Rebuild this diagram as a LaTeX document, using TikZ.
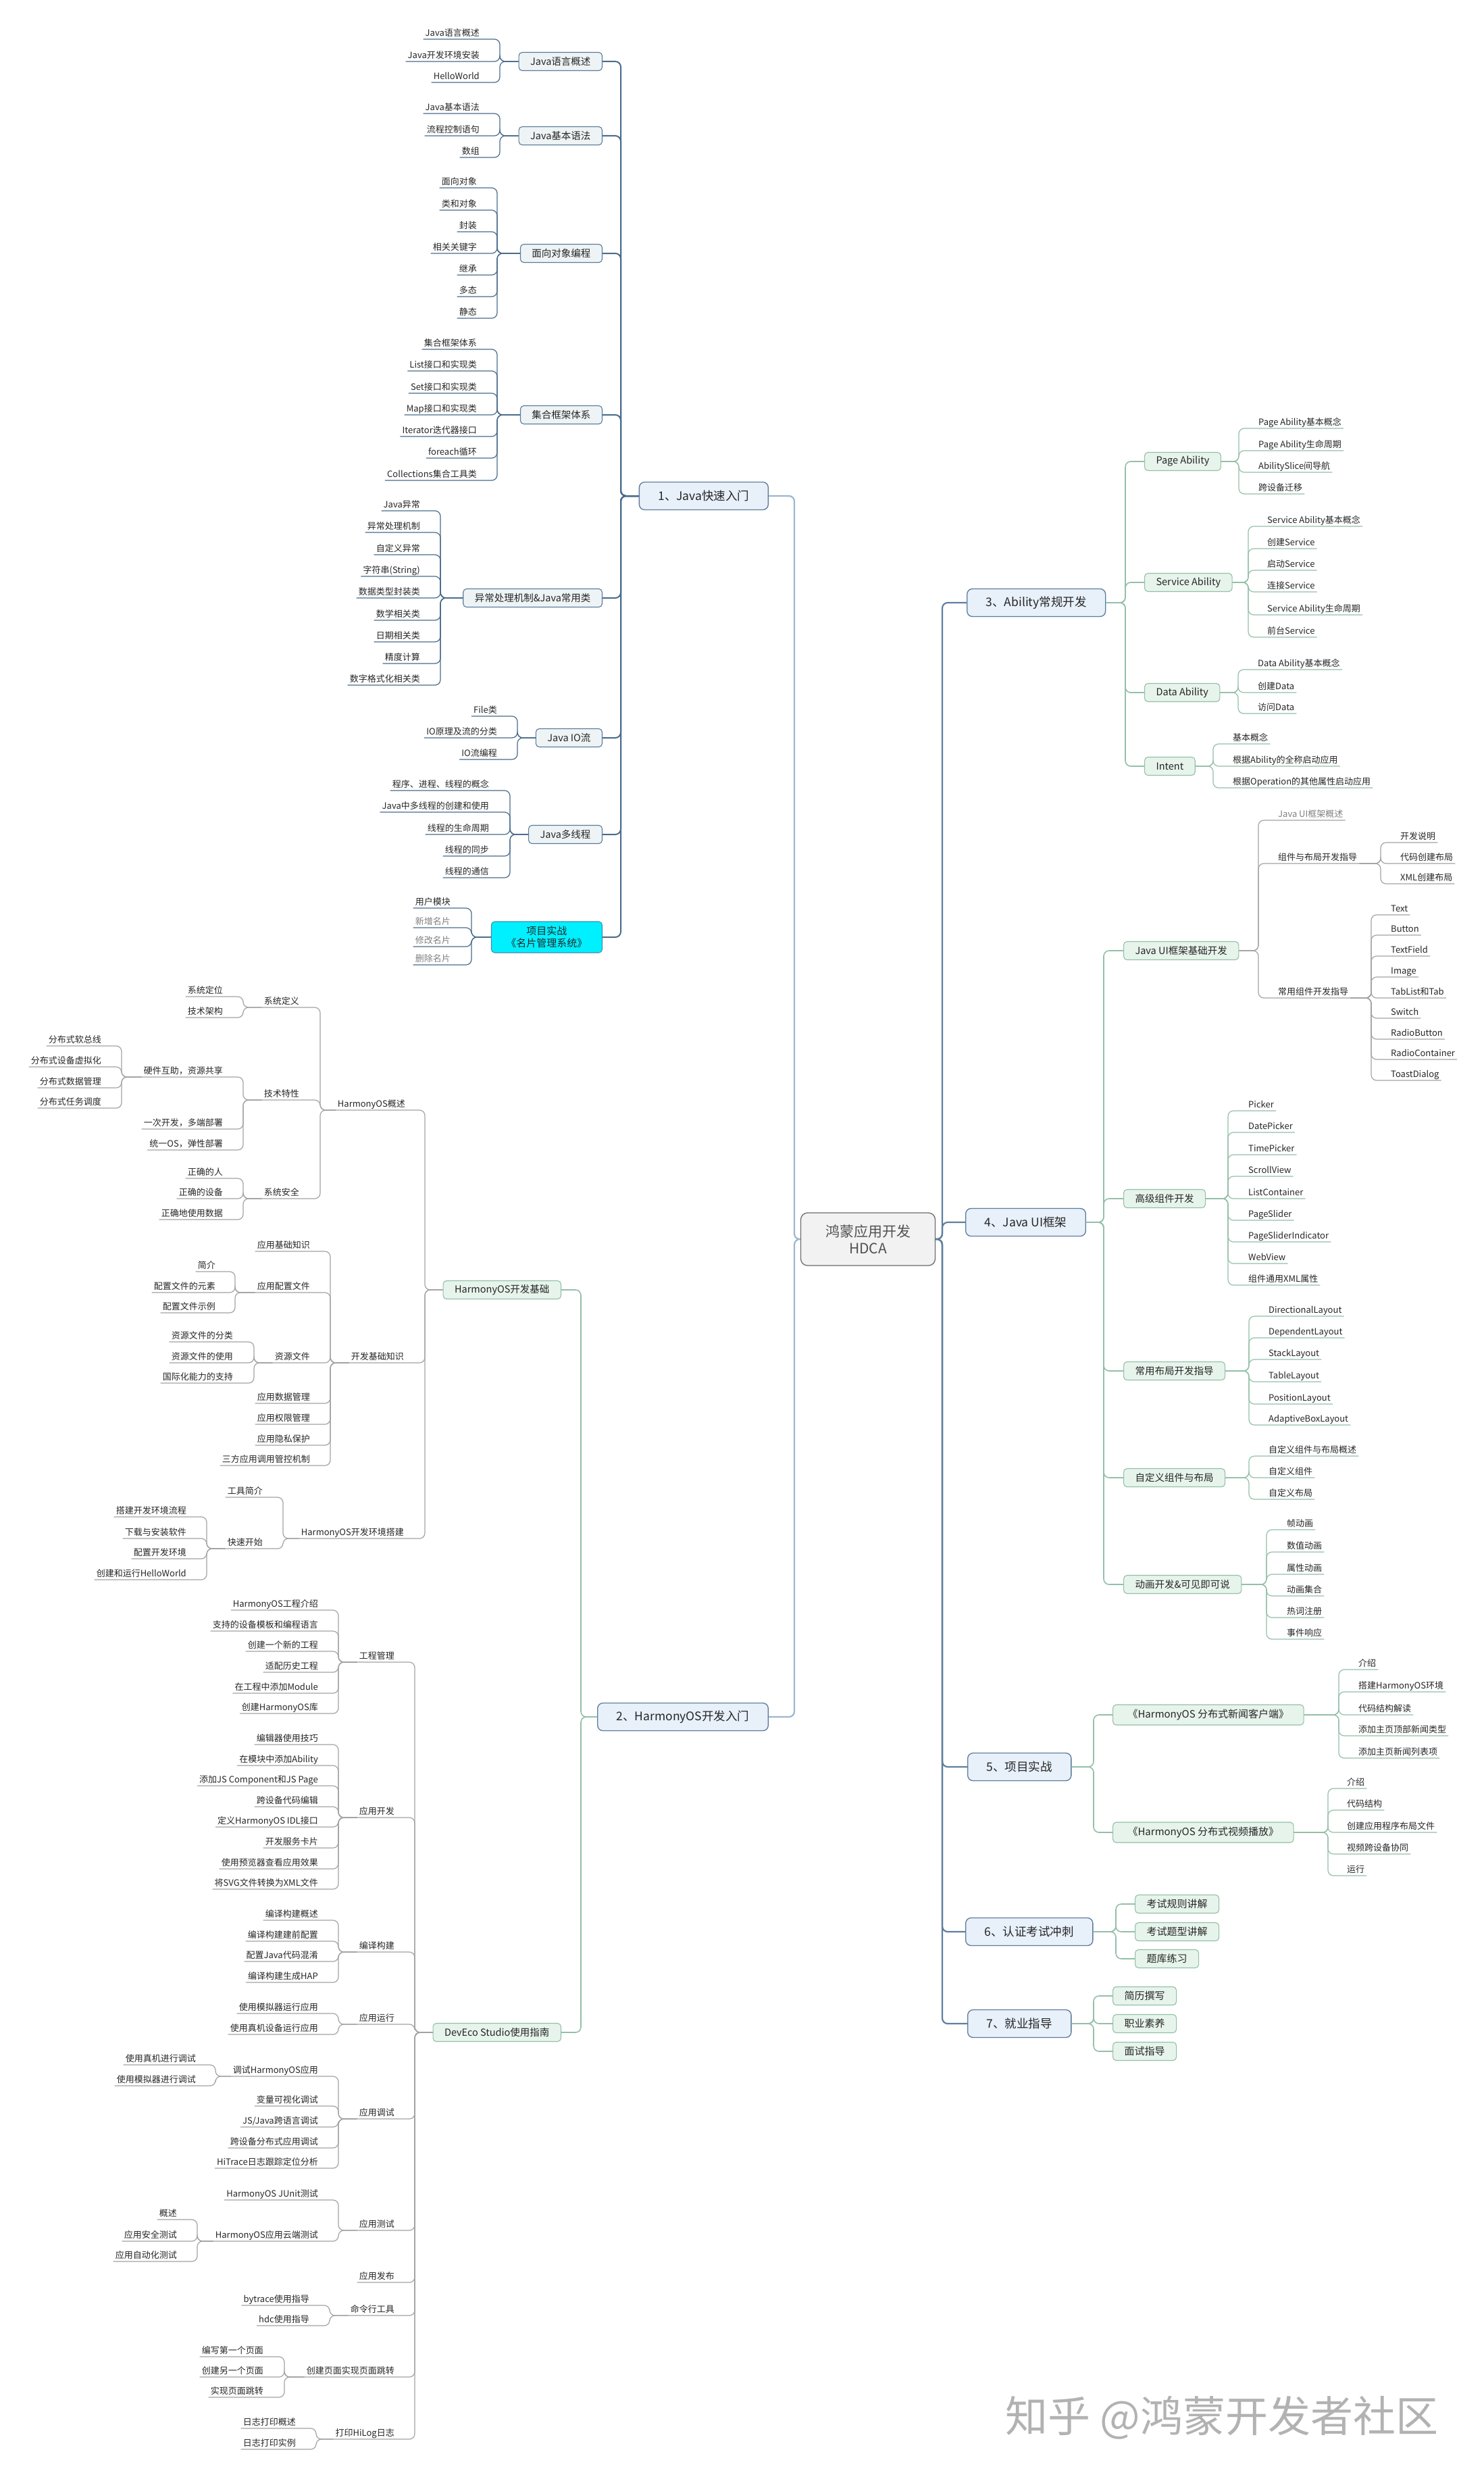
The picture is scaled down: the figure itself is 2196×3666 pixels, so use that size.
\documentclass[tikz,border=0pt]{standalone}
\usepackage{fontspec}
\setmainfont{Noto Sans CJK SC}
\usetikzlibrary{calc}
\definecolor{txt}{HTML}{262626}
\definecolor{cline}{HTML}{9DB6CE}
\definecolor{rline}{HTML}{5F7F9E}
\definecolor{jline}{HTML}{4A6C8C}
\definecolor{jbox}{HTML}{5A7B9B}
\definecolor{jfill}{HTML}{EEF4F5}
\definecolor{tbox}{HTML}{5D7B9B}
\definecolor{tfill}{HTML}{E8F0FA}
\definecolor{gbox}{HTML}{92C0A6}
\definecolor{gfill}{HTML}{E7F4EC}
\definecolor{gline}{HTML}{94BFA8}
\definecolor{kline}{HTML}{A3A3A3}
\definecolor{cbox}{HTML}{6B6B6B}
\definecolor{cfill}{HTML}{F2F2F2}
\definecolor{cyanb}{HTML}{3C8FB0}
\definecolor{cyanf}{HTML}{00F0FF}

\begin{document}
\begin{tikzpicture}[x=1pt,y=-1pt]
\tikzstyle{lf}=[inner xsep=3pt,inner ysep=1.5pt,text height=10.5pt,text depth=2.5pt,font=\fontsize{13}{15}\selectfont,text=txt]
\tikzstyle{b2}=[draw=jbox,fill=jfill,rounded corners=5pt,line width=1.1pt,inner xsep=17pt,minimum height=27pt,font=\fontsize{14.5}{17}\selectfont,text=txt]
\tikzstyle{g2}=[b2,draw=gbox,fill=gfill]
\tikzstyle{t1}=[draw=tbox,fill=tfill,rounded corners=8pt,line width=1.3pt,inner xsep=28pt,minimum height=41pt,font=\fontsize{17.5}{20}\selectfont,text=txt]
\tikzstyle{lk}=[rounded corners=8pt,line width=1.2pt]
\fill[white] (0,0) rectangle (2196,3666);
\useasboundingbox (0,0) rectangle (2196,3666);

% centre and the seven parts
\node[draw=cbox,fill=cfill,rounded corners=10pt,line width=1.3pt,minimum width=199pt,minimum height=78pt,align=center,text=txt!80,font=\fontsize{21}{25}\selectfont] (root) at (1285,1834) {鸿蒙应用开发\\HDCA};
\node[t1,anchor=east] (L1) at (1138,734) {1、Java快速入门};
\node[t1,anchor=east] (L2) at (1138,2541) {2、HarmonyOS开发入门};
\node[t1,anchor=west] (R3) at (1431,892) {3、Ability常规开发};
\node[t1,anchor=west] (R4) at (1429,1809) {4、Java UI框架};
\node[t1,anchor=west] (R5) at (1432,2615) {5、项目实战};
\node[t1,anchor=west] (R6) at (1429,2859) {6、认证考试冲刺};
\node[t1,anchor=west] (R7) at (1432,2995) {7、就业指导};
\coordinate (ls) at (1176,1834); \coordinate (rs) at (1395,1834);
\foreach \x in {L1,L2} \draw[lk,draw=cline,line width=2.2pt] (\x.east) -| (ls) -- (root.west);
\foreach \x in {R3,R4,R5,R6,R7} \draw[lk,draw=rline,line width=2.2pt] (\x.west) -| (rs) -- (root.east);

% 1 Java
\node[b2,anchor=east] (J1) at (892,91) {Java语言概述};
\node[b2,anchor=east] (J2) at (892,201) {Java基本语法};
\node[b2,anchor=east] (J3) at (892,375) {面向对象编程};
\node[b2,anchor=east] (J4) at (892,614) {集合框架体系};
\node[b2,anchor=east] (J5) at (892,885) {异常处理机制\&Java常用类};
\node[b2,anchor=east] (J6) at (892,1092) {Java IO流};
\node[b2,anchor=east] (J7) at (892,1235) {Java多线程};
\node[b2,anchor=east,draw=cyanb,fill=cyanf,align=center,minimum height=46pt,inner xsep=22pt,font=\fontsize{15}{18}\selectfont] (J8) at (892,1387) {项目实战\\《名片管理系统》};
\coordinate (js) at (919,734);
\foreach \x in {J1,J2,J3,J4,J5,J6,J7,J8} \draw[lk,draw=jline,line width=2pt] (\x.east) -| (js) -- (L1.west);

\node[lf,anchor=south east] (J1a) at (713,58) {Java语言概述}; \node[lf,anchor=south east] (J1b) at (713,91) {Java开发环境安装}; \node[lf,anchor=south east] (J1c) at (713,122) {HelloWorld};
\coordinate (j1s) at (740,91);
\foreach \x in {J1a,J1b,J1c} \draw[lk,draw=jline] (\x.south west) -- (\x.south east) -| (j1s) -- (J1.west);
\node[lf,anchor=south east] (J2a) at (713,168) {Java基本语法}; \node[lf,anchor=south east] (J2b) at (713,201) {流程控制语句}; \node[lf,anchor=south east] (J2c) at (713,233) {数组};
\coordinate (j2s) at (740,201);
\foreach \x in {J2a,J2b,J2c} \draw[lk,draw=jline] (\x.south west) -- (\x.south east) -| (j2s) -- (J2.west);
\node[lf,anchor=south east] (J3a) at (709,278) {面向对象}; \node[lf,anchor=south east] (J3b) at (709,311) {类和对象}; \node[lf,anchor=south east] (J3c) at (709,343) {封装};
\node[lf,anchor=south east] (J3d) at (709,375) {相关关键字}; \node[lf,anchor=south east] (J3e) at (709,407) {继承}; \node[lf,anchor=south east] (J3f) at (709,439) {多态}; \node[lf,anchor=south east] (J3g) at (709,471) {静态};
\coordinate (j3s) at (736,375);
\foreach \x in {J3a,J3b,J3c,J3d,J3e,J3f,J3g} \draw[lk,draw=jline] (\x.south west) -- (\x.south east) -| (j3s) -- (J3.west);
\node[lf,anchor=south east] (J4a) at (709,517) {集合框架体系}; \node[lf,anchor=south east] (J4b) at (709,549) {List接口和实现类}; \node[lf,anchor=south east] (J4c) at (709,582) {Set接口和实现类};
\node[lf,anchor=south east] (J4d) at (709,614) {Map接口和实现类}; \node[lf,anchor=south east] (J4e) at (709,646) {Iterator迭代器接口}; \node[lf,anchor=south east] (J4f) at (709,678) {foreach循环}; \node[lf,anchor=south east] (J4g) at (709,711) {Collections集合工具类};
\coordinate (j4s) at (736,614);
\foreach \x in {J4a,J4b,J4c,J4d,J4e,J4f,J4g} \draw[lk,draw=jline] (\x.south west) -- (\x.south east) -| (j4s) -- (J4.west);
\node[lf,anchor=south east] (J5a) at (625,756) {Java异常}; \node[lf,anchor=south east] (J5b) at (625,788) {异常处理机制}; \node[lf,anchor=south east] (J5c) at (625,821) {自定义异常};
\node[lf,anchor=south east] (J5d) at (625,853) {字符串(String)}; \node[lf,anchor=south east] (J5e) at (625,885) {数据类型封装类}; \node[lf,anchor=south east] (J5f) at (625,918) {数学相关类};
\node[lf,anchor=south east] (J5g) at (625,950) {日期相关类}; \node[lf,anchor=south east] (J5h) at (625,982) {精度计算}; \node[lf,anchor=south east] (J5i) at (625,1014) {数字格式化相关类};
\coordinate (j5s) at (652,885);
\foreach \x in {J5a,J5b,J5c,J5d,J5e,J5f,J5g,J5h,J5i} \draw[lk,draw=jline] (\x.south west) -- (\x.south east) -| (j5s) -- (J5.west);
\node[lf,anchor=south east] (J6a) at (739,1060) {File类}; \node[lf,anchor=south east] (J6b) at (739,1092) {IO原理及流的分类}; \node[lf,anchor=south east] (J6c) at (739,1124) {IO流编程};
\coordinate (j6s) at (766,1092);
\foreach \x in {J6a,J6b,J6c} \draw[lk,draw=jline] (\x.south west) -- (\x.south east) -| (j6s) -- (J6.west);
\node[lf,anchor=south east] (J7a) at (727,1170) {程序、进程、线程的概念}; \node[lf,anchor=south east] (J7b) at (727,1202) {Java中多线程的创建和使用}; \node[lf,anchor=south east] (J7c) at (727,1235) {线程的生命周期};
\node[lf,anchor=south east] (J7d) at (727,1267) {线程的同步}; \node[lf,anchor=south east] (J7e) at (727,1299) {线程的通信};
\coordinate (j7s) at (755,1235);
\foreach \x in {J7a,J7b,J7c,J7d,J7e} \draw[lk,draw=jline] (\x.south west) -- (\x.south east) -| (j7s) -- (J7.west);
\node[lf,anchor=south east] (J8a) at (670,1344) {用户模块}; \node[lf,anchor=south east,text=gray] (J8b) at (670,1373) {新增名片};
\node[lf,anchor=south east,text=gray] (J8c) at (670,1401) {修改名片}; \node[lf,anchor=south east,text=gray] (J8d) at (670,1428) {删除名片};
\coordinate (j8s) at (698,1387);
\foreach \x in {J8a,J8b,J8c,J8d} \draw[lk,draw=jline] (\x.south west) -- (\x.south east) -| (j8s) -- (J8.west);

% 2 HarmonyOS
\node[g2,anchor=east] (H1) at (831,1909) {HarmonyOS开发基础};
\node[g2,anchor=east] (H2) at (831,3008) {DevEco Studio使用指南};
\coordinate (l2s) at (860,2541);
\foreach \x in {H1,H2} \draw[lk,draw=gline,line width=1.6pt] (\x.east) -| (l2s) -- (L2.west);
\node[lf,anchor=south east] (H1a) at (603,1643) {HarmonyOS概述}; \node[lf,anchor=south east] (H1b) at (601,2017) {开发基础知识}; \node[lf,anchor=south east] (H1c) at (601,2277) {HarmonyOS开发环境搭建};
\coordinate (h1s) at (629,1909);
\foreach \x in {H1a,H1b,H1c} \draw[lk,draw=kline] (\x.south west) -- (\x.south east) -| (h1s) -- (H1.west);
\node[lf,anchor=south east] (H1a1) at (446,1491) {系统定义}; \node[lf,anchor=south east] (H1a2) at (446,1628) {技术特性}; \node[lf,anchor=south east] (H1a3) at (446,1774) {系统安全};
\coordinate (h1as) at (474,1643);
\foreach \x in {H1a1,H1a2,H1a3} \draw[lk,draw=kline] (\x.south west) -- (\x.south east) -| (h1as) -- (H1a.south west);
\node[lf,anchor=south east] (S1a) at (333,1475) {系统定位}; \node[lf,anchor=south east] (S1b) at (333,1506) {技术架构};
\coordinate (s1s) at (360,1491);
\foreach \x in {S1a,S1b} \draw[lk,draw=kline] (\x.south west) -- (\x.south east) -| (s1s) -- (H1a1.south west);
\node[lf,anchor=south east] (S2a) at (333,1594) {硬件互助，资源共享}; \node[lf,anchor=south east] (S2b) at (333,1671) {一次开发，多端部署}; \node[lf,anchor=south east] (S2c) at (333,1702) {统一OS，弹性部署};
\coordinate (s2s) at (360,1628);
\foreach \x in {S2a,S2b,S2c} \draw[lk,draw=kline] (\x.south west) -- (\x.south east) -| (s2s) -- (H1a2.south west);
\node[lf,anchor=south east] (F1) at (153,1548) {分布式软总线}; \node[lf,anchor=south east] (F2) at (153,1579) {分布式设备虚拟化};
\node[lf,anchor=south east] (F3) at (153,1610) {分布式数据管理}; \node[lf,anchor=south east] (F4) at (153,1640) {分布式任务调度};
\coordinate (fs) at (180,1594);
\foreach \x in {F1,F2,F3,F4} \draw[lk,draw=kline] (\x.south west) -- (\x.south east) -| (fs) -- (S2a.south west);
\node[lf,anchor=south east] (S3a) at (333,1744) {正确的人}; \node[lf,anchor=south east] (S3b) at (333,1774) {正确的设备}; \node[lf,anchor=south east] (S3c) at (333,1805) {正确地使用数据};
\coordinate (s3s) at (360,1774);
\foreach \x in {S3a,S3b,S3c} \draw[lk,draw=kline] (\x.south west) -- (\x.south east) -| (s3s) -- (H1a3.south west);
\node[lf,anchor=south east] (B1) at (462,1852) {应用基础知识}; \node[lf,anchor=south east] (B2) at (462,1913) {应用配置文件}; \node[lf,anchor=south east] (B3) at (462,2017) {资源文件};
\node[lf,anchor=south east] (B4) at (462,2077) {应用数据管理}; \node[lf,anchor=south east] (B5) at (462,2108) {应用权限管理}; \node[lf,anchor=south east] (B6) at (462,2139) {应用隐私保护}; \node[lf,anchor=south east] (B7) at (462,2169) {三方应用调用管控机制};
\coordinate (bs) at (489,2017);
\foreach \x in {B1,B2,B3,B4,B5,B6,B7} \draw[lk,draw=kline] (\x.south west) -- (\x.south east) -| (bs) -- (H1b.south west);
\node[lf,anchor=south east] (B2a) at (322,1882) {简介}; \node[lf,anchor=south east] (B2b) at (322,1913) {配置文件的元素}; \node[lf,anchor=south east] (B2c) at (322,1943) {配置文件示例};
\coordinate (b2s) at (348,1913);
\foreach \x in {B2a,B2b,B2c} \draw[lk,draw=kline] (\x.south west) -- (\x.south east) -| (b2s) -- (B2.south west);
\node[lf,anchor=south east] (B3a) at (348,1986) {资源文件的分类}; \node[lf,anchor=south east] (B3b) at (348,2017) {资源文件的使用}; \node[lf,anchor=south east] (B3c) at (348,2047) {国际化能力的支持};
\coordinate (b3s) at (376,2017);
\foreach \x in {B3a,B3b,B3c} \draw[lk,draw=kline] (\x.south west) -- (\x.south east) -| (b3s) -- (B3.south west);
\node[lf,anchor=south east] (C1) at (392,2216) {工具简介}; \node[lf,anchor=south east] (C2) at (392,2292) {快速开始};
\coordinate (cs) at (419,2277);
\foreach \x in {C1,C2} \draw[lk,draw=kline] (\x.south west) -- (\x.south east) -| (cs) -- (H1c.south west);
\node[lf,anchor=south east] (C2a) at (279,2245) {搭建开发环境流程}; \node[lf,anchor=south east] (C2b) at (279,2277) {下载与安装软件};
\node[lf,anchor=south east] (C2c) at (279,2307) {配置开发环境}; \node[lf,anchor=south east] (C2d) at (279,2338) {创建和运行HelloWorld};
\coordinate (c2s) at (306,2292);
\foreach \x in {C2a,C2b,C2c,C2d} \draw[lk,draw=kline] (\x.south west) -- (\x.south east) -| (c2s) -- (C2.south west);

% DevEco Studio
\node[lf,anchor=south east] (D1) at (587,2460) {工程管理}; \node[lf,anchor=south east] (D2) at (587,2690) {应用开发}; \node[lf,anchor=south east] (D3) at (587,2889) {编译构建};
\node[lf,anchor=south east] (D4) at (587,2996) {应用运行}; \node[lf,anchor=south east] (D5) at (587,3136) {应用调试}; \node[lf,anchor=south east] (D6) at (587,3301) {应用测试};
\node[lf,anchor=south east] (D7) at (587,3378) {应用发布}; \node[lf,anchor=south east] (D8) at (587,3427) {命令行工具};
\node[lf,anchor=south east] (D9) at (587,3518) {创建页面实现页面跳转}; \node[lf,anchor=south east] (D10) at (587,3610) {打印HiLog日志};
\coordinate (ds) at (614,3008);
\foreach \x in {D1,D2,D3,D4,D5,D6,D7,D8,D9,D10} \draw[lk,draw=kline] (\x.south west) -- (\x.south east) -| (ds) -- (H2.west);
\node[lf,anchor=south east] (D1a) at (474,2383) {HarmonyOS工程介绍}; \node[lf,anchor=south east] (D1b) at (474,2414) {支持的设备模板和编程语言}; \node[lf,anchor=south east] (D1c) at (474,2444) {创建一个新的工程};
\node[lf,anchor=south east] (D1d) at (474,2475) {适配历史工程}; \node[lf,anchor=south east] (D1e) at (474,2506) {在工程中添加Module}; \node[lf,anchor=south east] (D1f) at (474,2536) {创建HarmonyOS库};
\coordinate (d1s) at (501,2460);
\foreach \x in {D1a,D1b,D1c,D1d,D1e,D1f} \draw[lk,draw=kline] (\x.south west) -- (\x.south east) -| (d1s) -- (D1.south west);
\node[lf,anchor=south east] (D2a) at (474,2582) {编辑器使用技巧}; \node[lf,anchor=south east] (D2b) at (474,2613) {在模块中添加Ability}; \node[lf,anchor=south east] (D2c) at (474,2643) {添加JS Component和JS Page};
\node[lf,anchor=south east] (D2d) at (474,2674) {跨设备代码编辑}; \node[lf,anchor=south east] (D2e) at (474,2704) {定义HarmonyOS IDL接口}; \node[lf,anchor=south east] (D2f) at (474,2735) {开发服务卡片};
\node[lf,anchor=south east] (D2g) at (474,2766) {使用预览器查看应用效果}; \node[lf,anchor=south east] (D2h) at (474,2796) {将SVG文件转换为XML文件};
\coordinate (d2s) at (501,2690);
\foreach \x in {D2a,D2b,D2c,D2d,D2e,D2f,D2g,D2h} \draw[lk,draw=kline] (\x.south west) -- (\x.south east) -| (d2s) -- (D2.south west);
\node[lf,anchor=south east] (D3a) at (474,2842) {编译构建概述}; \node[lf,anchor=south east] (D3b) at (474,2873) {编译构建建前配置};
\node[lf,anchor=south east] (D3c) at (474,2903) {配置Java代码混淆}; \node[lf,anchor=south east] (D3d) at (474,2934) {编译构建生成HAP};
\coordinate (d3s) at (501,2889);
\foreach \x in {D3a,D3b,D3c,D3d} \draw[lk,draw=kline] (\x.south west) -- (\x.south east) -| (d3s) -- (D3.south west);
\node[lf,anchor=south east] (D4a) at (474,2980) {使用模拟器运行应用}; \node[lf,anchor=south east] (D4b) at (474,3011) {使用真机设备运行应用};
\coordinate (d4s) at (501,2996);
\foreach \x in {D4a,D4b} \draw[lk,draw=kline] (\x.south west) -- (\x.south east) -| (d4s) -- (D4.south west);
\node[lf,anchor=south east] (D5a) at (474,3073) {调试HarmonyOS应用}; \node[lf,anchor=south east] (D5b) at (474,3117) {变量可视化调试}; \node[lf,anchor=south east] (D5c) at (474,3148) {JS/Java跨语言调试};
\node[lf,anchor=south east] (D5d) at (474,3179) {跨设备分布式应用调试}; \node[lf,anchor=south east] (D5e) at (474,3209) {HiTrace日志跟踪定位分析};
\coordinate (d5s) at (501,3136);
\foreach \x in {D5a,D5b,D5c,D5d,D5e} \draw[lk,draw=kline] (\x.south west) -- (\x.south east) -| (d5s) -- (D5.south west);
\node[lf,anchor=south east] (D5a1) at (293,3056) {使用真机进行调试}; \node[lf,anchor=south east] (D5a2) at (293,3087) {使用模拟器进行调试};
\coordinate (d5as) at (319,3073);
\foreach \x in {D5a1,D5a2} \draw[lk,draw=kline] (\x.south west) -- (\x.south east) -| (d5as) -- (D5a.south west);
\node[lf,anchor=south east] (D6a) at (474,3256) {HarmonyOS JUnit测试}; \node[lf,anchor=south east] (D6b) at (474,3317) {HarmonyOS应用云端测试};
\coordinate (d6s) at (501,3301);
\foreach \x in {D6a,D6b} \draw[lk,draw=kline] (\x.south west) -- (\x.south east) -| (d6s) -- (D6.south west);
\node[lf,anchor=south east] (D6b1) at (265,3285) {概述}; \node[lf,anchor=south east] (D6b2) at (265,3317) {应用安全测试}; \node[lf,anchor=south east] (D6b3) at (265,3347) {应用自动化测试};
\coordinate (d6bs) at (292,3317);
\foreach \x in {D6b1,D6b2,D6b3} \draw[lk,draw=kline] (\x.south west) -- (\x.south east) -| (d6bs) -- (D6b.south west);
\node[lf,anchor=south east] (D8a) at (461,3412) {bytrace使用指导}; \node[lf,anchor=south east] (D8b) at (461,3442) {hdc使用指导};
\coordinate (d8s) at (488,3427);
\foreach \x in {D8a,D8b} \draw[lk,draw=kline] (\x.south west) -- (\x.south east) -| (d8s) -- (D8.south west);
\node[lf,anchor=south east] (D9a) at (393,3488) {编写第一个页面}; \node[lf,anchor=south east] (D9b) at (393,3518) {创建另一个页面}; \node[lf,anchor=south east] (D9c) at (393,3548) {实现页面跳转};
\coordinate (d9s) at (421,3518);
\foreach \x in {D9a,D9b,D9c} \draw[lk,draw=kline] (\x.south west) -- (\x.south east) -| (d9s) -- (D9.south west);
\node[lf,anchor=south east] (D10a) at (441,3594) {日志打印概述}; \node[lf,anchor=south east] (D10b) at (441,3625) {日志打印实例};
\coordinate (d10s) at (468,3610);
\foreach \x in {D10a,D10b} \draw[lk,draw=kline] (\x.south west) -- (\x.south east) -| (d10s) -- (D10.south west);

% 3 Ability
\node[g2,anchor=west] (A1) at (1694,683) {Page Ability}; \node[g2,anchor=west] (A2) at (1694,862) {Service Ability};
\node[g2,anchor=west] (A3) at (1694,1025) {Data Ability}; \node[g2,anchor=west] (A4) at (1694,1134) {Intent};
\coordinate (r3s) at (1666,892);
\foreach \x in {A1,A2,A3,A4} \draw[lk,draw=gline,line width=1.6pt] (\x.west) -| (r3s) -- (R3.east);
\node[lf,anchor=south west] (A1a) at (1860,634) {Page Ability基本概念}; \node[lf,anchor=south west] (A1b) at (1860,667) {Page Ability生命周期};
\node[lf,anchor=south west] (A1c) at (1860,699) {AbilitySlice间导航}; \node[lf,anchor=south west] (A1d) at (1860,731) {跨设备迁移};
\coordinate (a1s) at (1834,683);
\foreach \x in {A1a,A1b,A1c,A1d} \draw[lk,draw=gline] (\x.south east) -- (\x.south west) -| (a1s) -- (A1.east);
\node[lf,anchor=south west] (A2a) at (1873,779) {Service Ability基本概念}; \node[lf,anchor=south west] (A2b) at (1873,812) {创建Service}; \node[lf,anchor=south west] (A2c) at (1873,844) {启动Service};
\node[lf,anchor=south west] (A2d) at (1873,876) {连接Service}; \node[lf,anchor=south west] (A2e) at (1873,910) {Service Ability生命周期}; \node[lf,anchor=south west] (A2f) at (1873,943) {前台Service};
\coordinate (a2s) at (1848,862);
\foreach \x in {A2a,A2b,A2c,A2d,A2e,A2f} \draw[lk,draw=gline] (\x.south east) -- (\x.south west) -| (a2s) -- (A2.east);
\node[lf,anchor=south west] (A3a) at (1859,991) {Data Ability基本概念}; \node[lf,anchor=south west] (A3b) at (1859,1025) {创建Data}; \node[lf,anchor=south west] (A3c) at (1859,1056) {访问Data};
\coordinate (a3s) at (1833,1025);
\foreach \x in {A3a,A3b,A3c} \draw[lk,draw=gline] (\x.south east) -- (\x.south west) -| (a3s) -- (A3.east);
\node[lf,anchor=south west] (A4a) at (1822,1101) {基本概念}; \node[lf,anchor=south west] (A4b) at (1822,1134) {根据Ability的全称启动应用}; \node[lf,anchor=south west] (A4c) at (1822,1166) {根据Operation的其他属性启动应用};
\coordinate (a4s) at (1796,1134);
\foreach \x in {A4a,A4b,A4c} \draw[lk,draw=gline] (\x.south east) -- (\x.south west) -| (a4s) -- (A4.east);

% 4 Java UI
\node[g2,anchor=west] (U1) at (1663,1407) {Java UI框架基础开发}; \node[g2,anchor=west] (U2) at (1663,1774) {高级组件开发};
\node[g2,anchor=west] (U3) at (1663,2029) {常用布局开发指导}; \node[g2,anchor=west] (U4) at (1663,2187) {自定义组件与布局};
\node[g2,anchor=west] (U5) at (1663,2345) {动画开发\&可见即可说};
\coordinate (r4s) at (1634,1809);
\foreach \x in {U1,U2,U3,U4,U5} \draw[lk,draw=gline,line width=1.6pt] (\x.west) -| (r4s) -- (R4.east);
\node[lf,anchor=south west,text=gray] (U1a) at (1889,1214) {Java UI框架概述}; \node[lf,anchor=south west] (U1b) at (1889,1278) {组件与布局开发指导}; \node[lf,anchor=south west] (U1c) at (1889,1477) {常用组件开发指导};
\coordinate (u1s) at (1863,1407);
\foreach \x in {U1a,U1b,U1c} \draw[lk,draw=kline] (\x.south east) -- (\x.south west) -| (u1s) -- (U1.east);
\node[lf,anchor=south west] (U1b1) at (2070,1247) {开发说明}; \node[lf,anchor=south west] (U1b2) at (2070,1278) {代码创建布局}; \node[lf,anchor=south west] (U1b3) at (2070,1308) {XML创建布局};
\coordinate (u1bs) at (2044,1278);
\foreach \x in {U1b1,U1b2,U1b3} \draw[lk,draw=kline] (\x.south east) -- (\x.south west) -| (u1bs) -- (U1b.south east);
\node[lf,anchor=south west] (W1) at (2056,1354) {Text}; \node[lf,anchor=south west] (W2) at (2056,1384) {Button}; \node[lf,anchor=south west] (W3) at (2056,1415) {TextField};
\node[lf,anchor=south west] (W4) at (2056,1446) {Image}; \node[lf,anchor=south west] (W5) at (2056,1477) {TabList和Tab}; \node[lf,anchor=south west] (W6) at (2056,1507) {Switch};
\node[lf,anchor=south west] (W7) at (2056,1538) {RadioButton}; \node[lf,anchor=south west] (W8) at (2056,1568) {RadioContainer}; \node[lf,anchor=south west] (W9) at (2056,1599) {ToastDialog};
\coordinate (ws) at (2030,1477);
\foreach \x in {W1,W2,W3,W4,W5,W6,W7,W8,W9} \draw[lk,draw=kline] (\x.south east) -- (\x.south west) -| (ws) -- (U1c.south east);
\node[lf,anchor=south west] (U2a) at (1845,1644) {Picker}; \node[lf,anchor=south west] (U2b) at (1845,1676) {DatePicker}; \node[lf,anchor=south west] (U2c) at (1845,1709) {TimePicker};
\node[lf,anchor=south west] (U2d) at (1845,1741) {ScrollView}; \node[lf,anchor=south west] (U2e) at (1845,1774) {ListContainer}; \node[lf,anchor=south west] (U2f) at (1845,1806) {PageSlider};
\node[lf,anchor=south west] (U2g) at (1845,1838) {PageSliderIndicator}; \node[lf,anchor=south west] (U2h) at (1845,1870) {WebView}; \node[lf,anchor=south west] (U2i) at (1845,1902) {组件通用XML属性};
\coordinate (u2s) at (1818,1774);
\foreach \x in {U2a,U2b,U2c,U2d,U2e,U2f,U2g,U2h,U2i} \draw[lk,draw=gline] (\x.south east) -- (\x.south west) -| (u2s) -- (U2.east);
\node[lf,anchor=south west] (U3a) at (1875,1948) {DirectionalLayout}; \node[lf,anchor=south west] (U3b) at (1875,1980) {DependentLayout}; \node[lf,anchor=south west] (U3c) at (1875,2012) {StackLayout};
\node[lf,anchor=south west] (U3d) at (1875,2045) {TableLayout}; \node[lf,anchor=south west] (U3e) at (1875,2078) {PositionLayout}; \node[lf,anchor=south west] (U3f) at (1875,2109) {AdaptiveBoxLayout};
\coordinate (u3s) at (1849,2029);
\foreach \x in {U3a,U3b,U3c,U3d,U3e,U3f} \draw[lk,draw=gline] (\x.south east) -- (\x.south west) -| (u3s) -- (U3.east);
\node[lf,anchor=south west] (U4a) at (1875,2155) {自定义组件与布局概述}; \node[lf,anchor=south west] (U4b) at (1875,2187) {自定义组件}; \node[lf,anchor=south west] (U4c) at (1875,2219) {自定义布局};
\coordinate (u4s) at (1849,2187);
\foreach \x in {U4a,U4b,U4c} \draw[lk,draw=gline] (\x.south east) -- (\x.south west) -| (u4s) -- (U4.east);
\node[lf,anchor=south west] (U5a) at (1902,2264) {帧动画}; \node[lf,anchor=south west] (U5b) at (1902,2297) {数值动画}; \node[lf,anchor=south west] (U5c) at (1902,2330) {属性动画};
\node[lf,anchor=south west] (U5d) at (1902,2362) {动画集合}; \node[lf,anchor=south west] (U5e) at (1902,2394) {热词注册}; \node[lf,anchor=south west] (U5f) at (1902,2426) {事件响应};
\coordinate (u5s) at (1875,2345);
\foreach \x in {U5a,U5b,U5c,U5d,U5e,U5f} \draw[lk,draw=gline] (\x.south east) -- (\x.south west) -| (u5s) -- (U5.east);

% 5 projects
\node[g2,anchor=west,minimum height=30pt,inner xsep=22pt,font=\fontsize{15}{18}\selectfont] (P1) at (1647,2538) {《HarmonyOS 分布式新闻客户端》};
\node[g2,anchor=west,minimum height=30pt,inner xsep=22pt,font=\fontsize{15}{18}\selectfont] (P2) at (1647,2712) {《HarmonyOS 分布式视频播放》};
\coordinate (r5s) at (1619,2615);
\foreach \x in {P1,P2} \draw[lk,draw=gline,line width=1.6pt] (\x.west) -| (r5s) -- (R5.east);
\node[lf,anchor=south west] (P1a) at (2008,2471) {介绍}; \node[lf,anchor=south west] (P1b) at (2008,2504) {搭建HarmonyOS环境}; \node[lf,anchor=south west] (P1c) at (2008,2538) {代码结构解读};
\node[lf,anchor=south west] (P1d) at (2008,2569) {添加主页顶部新闻类型}; \node[lf,anchor=south west] (P1e) at (2008,2602) {添加主页新闻列表项};
\coordinate (p1s) at (1982,2538);
\foreach \x in {P1a,P1b,P1c,P1d,P1e} \draw[lk,draw=gline] (\x.south east) -- (\x.south west) -| (p1s) -- (P1.east);
\node[lf,anchor=south west] (P2a) at (1991,2647) {介绍}; \node[lf,anchor=south west] (P2b) at (1991,2679) {代码结构}; \node[lf,anchor=south west] (P2c) at (1991,2712) {创建应用程序布局文件};
\node[lf,anchor=south west] (P2d) at (1991,2744) {视频跨设备协同}; \node[lf,anchor=south west] (P2e) at (1991,2776) {运行};
\coordinate (p2s) at (1966,2712);
\foreach \x in {P2a,P2b,P2c,P2d,P2e} \draw[lk,draw=gline] (\x.south east) -- (\x.south west) -| (p2s) -- (P2.east);

% 6 exam, 7 career
\node[g2,anchor=west,font=\fontsize{15}{18}\selectfont] (E1) at (1680,2818) {考试规则讲解}; \node[g2,anchor=west,font=\fontsize{15}{18}\selectfont] (E2) at (1680,2859) {考试题型讲解};
\node[g2,anchor=west,font=\fontsize{15}{18}\selectfont] (E3) at (1680,2899) {题库练习};
\coordinate (r6s) at (1652,2859);
\foreach \x in {E1,E2,E3} \draw[lk,draw=gline,line width=1.6pt] (\x.west) -| (r6s) -- (R6.east);
\node[g2,anchor=west,font=\fontsize{15}{18}\selectfont] (K1) at (1647,2954) {简历撰写}; \node[g2,anchor=west,font=\fontsize{15}{18}\selectfont] (K2) at (1647,2995) {职业素养};
\node[g2,anchor=west,font=\fontsize{15}{18}\selectfont] (K3) at (1647,3036) {面试指导};
\coordinate (r7s) at (1619,2995);
\foreach \x in {K1,K2,K3} \draw[lk,draw=gline,line width=1.6pt] (\x.west) -| (r7s) -- (R7.east);

\node[text=gray!60,font=\fontsize{63}{66}\selectfont] (wm) at (1809,3578) {知乎 @鸿蒙开发者社区};
\end{tikzpicture}
\end{document}
